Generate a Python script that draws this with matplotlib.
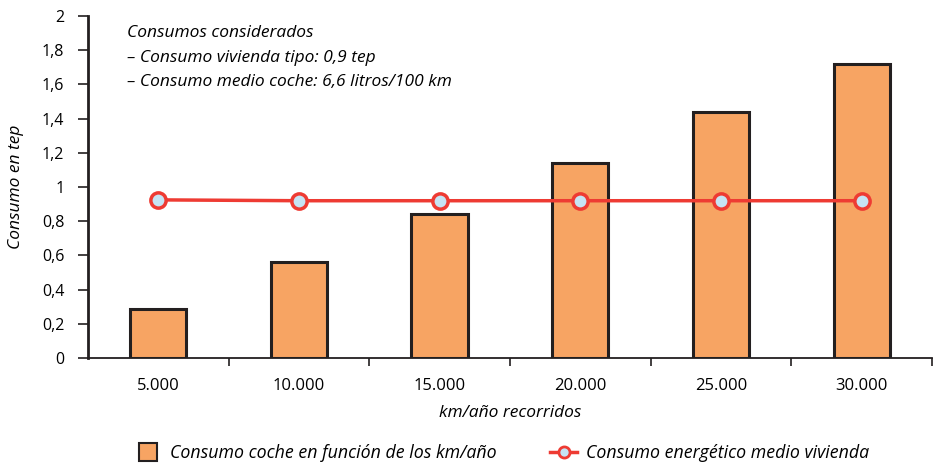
import numpy as np
import matplotlib.pyplot as plt
from matplotlib.lines import Line2D

categories = ["5.000", "10.000", "15.000", "20.000", "25.000", "30.000"]
coche = [0.29, 0.56, 0.84, 1.14, 1.44, 1.72]
vivienda = [0.925, 0.92, 0.92, 0.92, 0.92, 0.92]
yticks = [0, 0.2, 0.4, 0.6, 0.8, 1, 1.2, 1.4, 1.6, 1.8, 2]

plt.rcParams['font.family'] = ['Open Sans', 'DejaVu Sans']

fig = plt.figure(figsize=(9.34, 4.67), dpi=100)
ax = fig.add_axes([0.094, 0.233, 0.904, 0.733])

x = np.arange(len(categories))
ax.bar(x, coche, width=0.4, color="#F7A463", edgecolor="#231F20", linewidth=2.2, zorder=2)
ax.plot(x, vivienda, color="#EE3B33", linewidth=2.5, marker="o", markersize=11,
        markerfacecolor="#C6E4F4", markeredgecolor="#EE3B33", markeredgewidth=2.5, zorder=3)

ax.set_xlim(-0.5, 5.5)
ax.set_ylim(0, 2)
ax.set_yticks(yticks)
ax.set_yticklabels([("%g" % v).replace(".", ",") for v in yticks], fontsize=11.5)
ax.set_xticks(x)
ax.set_xticklabels(categories, fontsize=12)
ax.tick_params(axis="x", length=0, pad=14)
ax.set_xticks(np.arange(0.5, 6, 1), minor=True)
ax.tick_params(axis="x", which="minor", length=6, width=1.2, color="#231F20")
ax.tick_params(axis="y", length=7, width=1.2, color="#231F20", pad=10)

for s in ["top", "right"]:
    ax.spines[s].set_visible(False)
ax.spines["left"].set_linewidth(2)
ax.spines["bottom"].set_linewidth(1.3)
ax.spines["left"].set_color("#231F20")
ax.spines["bottom"].set_color("#231F20")

ax.set_xlabel("km/año recorridos", fontsize=12.5, style="italic", labelpad=8)
ax.set_ylabel("Consumo en tep", fontsize=12.5, style="italic", labelpad=13)

notes = ["Consumos considerados",
         "– Consumo vivienda tipo: 0,9 tep",
         "– Consumo medio coche: 6,6 litros/100 km"]
for i, t in enumerate(notes):
    fig.text(127 / 934, 1 - (33 + 24.5 * i) / 467, t, fontsize=12.5, style="italic",
             va="center", ha="left")

handles = [Line2D([0], [0], linestyle="none", marker="s", markersize=13,
                  markerfacecolor="#F7A463", markeredgecolor="#231F20", markeredgewidth=1.5),
           Line2D([0], [0], color="#EE3B33", linewidth=2.5, marker="o", markersize=8,
                  markerfacecolor="#C6E4F4", markeredgecolor="#EE3B33", markeredgewidth=2)]
fig.legend(handles, ["Consumo coche en función de los km/año", "Consumo energético medio vivienda"],
           loc="center", bbox_to_anchor=(0.5375, 0.03), ncol=2, frameon=False,
           prop={"size": 12.8, "style": "italic"}, columnspacing=3.0, handlelength=1.5,
           handletextpad=0.5)

fig.savefig("out.png", dpi=100)
